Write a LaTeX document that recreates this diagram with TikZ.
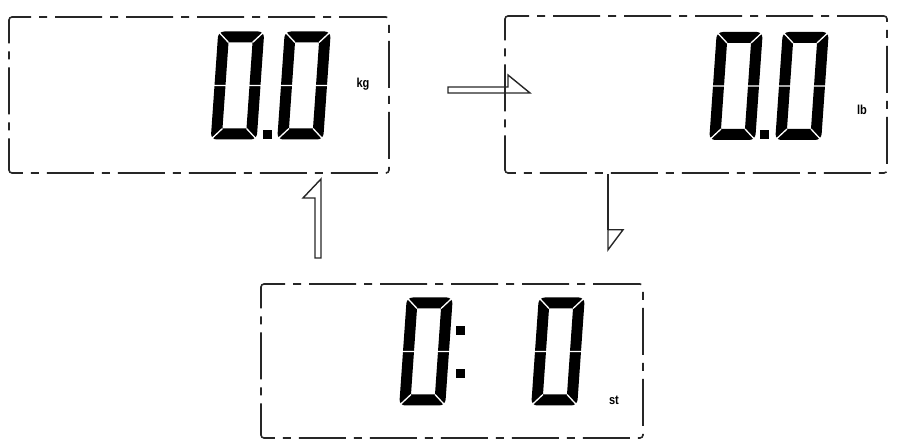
\documentclass[tikz,border=0pt]{standalone}
\usepackage{fontspec}
\setsansfont{Liberation Sans}
\usepackage{tikz}

\begin{document}
\begin{tikzpicture}
[x=1pt,y=-1pt]
\tikzset{dispbox/.style={draw=black!85,line width=1.6pt,rounded corners=3pt,
  dash pattern=on 47pt off 8pt on 8pt off 8pt,minimum width=#1,inner sep=0pt}}
\tikzset{unit/.style={font=\sffamily\bfseries\fontsize{13}{13}\selectfont,xscale=.85,inner sep=0pt}}
\tikzset{hollow/.style={draw=black!85,line width=1.4pt,line join=miter}}
\tikzset{zero/.pic={
  \fill[black,even odd rule,rounded corners=6pt] (-23,-54) rectangle (23,54)
    [sharp corners] (-12,-43) rectangle (12,43);
  \draw[white,line width=1.3pt] (-23,-54) -- (-12,-43) (23,-54) -- (12,-43)
    (-23,54) -- (-12,43) (23,54) -- (12,43) (-24,0) -- (-11,0) (24,0) -- (11,0);
}}
\tikzset{dot/.pic={\fill[black] (-4.5,-4.5) rectangle (4.5,4.5);}}
\useasboundingbox (0,0) rectangle (898,446);

% displays
\node [dispbox=380pt,minimum height=156pt] (kgbox) at (199,95) {};
\node [dispbox=382pt,minimum height=157pt] (lbbox) at (696,94.5) {};
\node [dispbox=382pt,minimum height=154pt] (stbox) at (452,361) {};

% kg
\pic [xslant=.07] (kga) at (237.5,85.5) {zero};
\pic (kgp) at (267.5,135) {dot};
\pic [xslant=.07] (kgb) at (304,85.5) {zero};
\node [unit] (kg) at (363,84) {kg};

% lb
\pic [xslant=.07] (lba) at (736,86) {zero};
\pic (lbp) at (764,135) {dot};
\pic [xslant=.07] (lbb) at (802,86) {zero};
\node [unit] (lb) at (862,110) {lb};

% st
\pic [xslant=.07] (sta) at (426,351.5) {zero};
\pic (stc1) at (460.5,330.5) {dot};
\pic (stc2) at (460.5,373.5) {dot};
\pic [xslant=.07] (stb) at (558,351.5) {zero};
\node [unit] (st) at (614,400) {st};

% arrows
\coordinate (ar1) at (448,90);
\coordinate (ar2) at (318,258);
\coordinate (ar3) at (lbbox.south -| 608,0);
\draw [hollow] (ar1) ++(0,-3) -- ++(60,0) -- ++(0,-12) -- ++(22,18) -- ++(-82,0) -- cycle;
\draw [hollow] (ar2) ++(3,0) -- ++(0,-79) -- ++(-18,19) -- ++(12,0) -- ++(0,60) -- cycle;
\draw [black!85,line width=2.2pt] (ar3) -- ++(0,56);
\draw [hollow] (ar3) ++(0,56) -- ++(15,0) -- ++(-15,20) -- cycle;
\end{tikzpicture}
\end{document}
